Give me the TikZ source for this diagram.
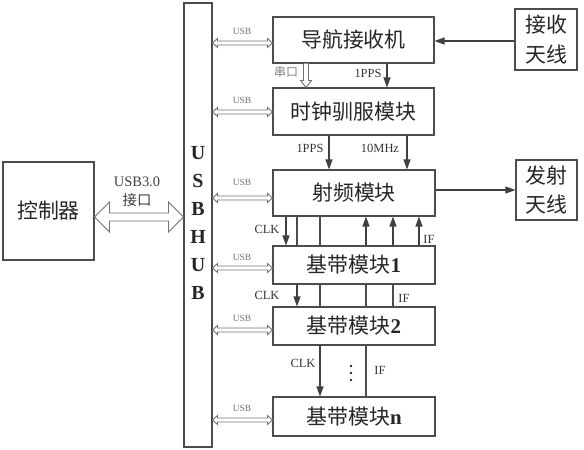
\documentclass[tikz,border=0pt]{standalone}
\usepackage{fontspec}
\setmainfont{Liberation Serif}
\newfontfamily\cjk{Noto Sans CJK SC}
\usetikzlibrary{arrows.meta,calc}
\newcommand\dblh[5]{% left, right, shaft half, head half, head length
  \draw[dblarr] (#1) -- ++(#5,-#4) -- ++(0,#4-#3) -- ($(#2)+(-#5,-#3)$) -- ++(0,#3-#4) -- (#2)
    -- ++(-#5,#4) -- ++(0,#3-#4) -- ($(#1)+(#5,#3)$) -- ++(0,#4-#3) -- cycle;}
\begin{document}
\begin{tikzpicture}[x=1bp,y=-1bp,line width=1.05bp,
  box/.style={draw=black!70, fill=white, inner sep=0pt, text=black!85,
    font=\fontsize{21}{25}\selectfont},
  lbl/.style={text=black!80, inner sep=1pt, font=\fontsize{12.5}{14}\selectfont},
  usbl/.style={text=black!55, inner sep=1pt, font=\fontsize{9.5}{11}\selectfont},
  ln/.style={draw=black!70},
  arr/.style={draw=black!75, -{Triangle[length=10bp,width=7bp]}},
  dblarr/.style={draw=black!55, line width=0.9bp, fill=white}]
\useasboundingbox (0,0) rectangle (584,450);

% boxes
\node[box, minimum width=28bp, minimum height=444bp] (hub) at (198,225) {};
\node[text=black!85, align=center, inner sep=0pt,
  font=\fontsize{20}{28}\selectfont\bfseries] (hubtxt) at (198,223) {U\\S\\B\\H\\U\\B};
\node[box, minimum width=161bp, minimum height=46bp] (nav) at (353.5,40) {\cjk 导航接收机};
\node[box, minimum width=161bp, minimum height=47bp] (clk) at (353.5,111.5) {\cjk 时钟驯服模块};
\node[box, minimum width=162bp, minimum height=46bp] (rf) at (354,193) {\cjk 射频模块};
\node[box, minimum width=162bp, minimum height=38bp] (bb1) at (354,265) {{\cjk 基带模块}\textbf{1}};
\node[box, minimum width=162bp, minimum height=38bp] (bb2) at (354,326) {{\cjk 基带模块}\textbf{2}};
\node[box, minimum width=162bp, minimum height=39bp] (bbn) at (354,416.5) {{\cjk 基带模块}\textbf{n}};
\node[box, minimum width=62bp, minimum height=61bp, align=center,
  font=\fontsize{21}{30}\selectfont] (rx) at (546,39.5) {\cjk 接收\\\cjk 天线};
\node[box, minimum width=61bp, minimum height=60bp, align=center,
  font=\fontsize{21}{30}\selectfont] (tx) at (546.5,190) {\cjk 发射\\\cjk 天线};
\node[box, minimum width=91bp, minimum height=98bp] (ctrl) at (48.5,211) {\cjk 控制器};

% antenna arrows
\coordinate (yrx) at (0,41);
\coordinate (ytx) at (0,190);
\draw[arr] (rx.west |- yrx) -- (nav.east |- yrx);
\draw[arr] (rf.east |- ytx) -- (tx.west |- ytx);

% controller <-> hub
\coordinate (yc) at (0,217);
\coordinate (cL) at (ctrl.east |- yc);
\coordinate (cR) at (hub.west |- yc);
\dblh{cL}{cR}{4}{15}{15}
\node[text=black!75, inner sep=0pt, font=\fontsize{14.5}{16}\selectfont] (usb3) at (137,182) {USB3.0};
\node[text=black!75, inner sep=0pt, font=\fontsize{14.5}{16}\selectfont] (jk) at (137,200) {\cjk 接口};

% USB links
\foreach \b/\y/\ly [count=\i] in {nav/43/31, clk/112/100, rf/198/182, bb1/268/257, bb2/330/318, bbn/420/408}{
  \coordinate (uy\i) at (0,\y);
  \coordinate (uL\i) at (hub.east |- uy\i);
  \coordinate (uR\i) at (\b.west |- uy\i);
  \dblh{uL\i}{uR\i}{2}{4.5}{5}
  \node[usbl] (usb\i) at (242,\ly) {USB};
}

% nav -> clock
\coordinate (xs) at (306,0);
\coordinate (sT) at (nav.south -| xs);
\coordinate (sB) at (clk.north -| xs);
\draw[dblarr] ($(sT)+(-2.5,0)$) -- ($(sB)+(-2.5,-7)$) -- ($(sB)+(-5.5,-7)$) -- (sB)
  -- ($(sB)+(5.5,-7)$) -- ($(sB)+(2.5,-7)$) -- ($(sT)+(2.5,0)$);
\node[text=black!50, inner sep=0pt, font=\fontsize{12}{14}\selectfont] (ck) at (286,72) {\cjk 串口};
\coordinate (xp) at (387,0);
\draw[arr] (nav.south -| xp) -- (clk.north -| xp);
\node[lbl] (pps1) at (368,73) {1PPS};

% clock -> rf
\coordinate (xa) at (329,0);
\coordinate (xb) at (407,0);
\draw[arr] (clk.south -| xa) -- (rf.north -| xa);
\draw[arr] (clk.south -| xb) -- (rf.north -| xb);
\node[lbl] (pps2) at (310,148) {1PPS};
\node[lbl] (mhz) at (380,148) {10MHz};

% CLK lines
\coordinate (c1) at (286,0);
\coordinate (c2) at (297,0);
\coordinate (c3) at (320,0);
\draw[arr] (rf.south -| c1) -- (bb1.north -| c1);
\draw[ln] (rf.south -| c2) -- (bb1.north -| c2);
\draw[arr] (bb1.south -| c2) -- (bb2.north -| c2);
\draw[ln] (rf.south -| c3) -- (bb1.north -| c3);
\draw[ln] (bb1.south -| c3) -- (bb2.north -| c3);
\draw[arr] (bb2.south -| c3) -- (bbn.north -| c3);

% IF lines
\coordinate (f1) at (366,0);
\coordinate (f2) at (393,0);
\coordinate (f3) at (419,0);
\draw[ln] (bbn.north -| f1) -- (bb2.south -| f1);
\draw[ln] (bb2.north -| f1) -- (bb1.south -| f1);
\draw[arr] (bb1.north -| f1) -- (rf.south -| f1);
\draw[ln] (bb2.north -| f2) -- (bb1.south -| f2);
\draw[arr] (bb1.north -| f2) -- (rf.south -| f2);
\draw[arr] (bb1.north -| f3) -- (rf.south -| f3);

\node[lbl] (clkl1) at (267,229) {CLK};
\node[lbl] (ifl1) at (429,239) {IF};
\node[lbl] (clkl2) at (267,295) {CLK};
\node[lbl] (ifl2) at (404,298) {IF};
\node[lbl] (clkl3) at (303,363) {CLK};
\node[lbl] (ifl3) at (380,370) {IF};
\foreach \dy in {366,373,380} \fill[black!85] (351,\dy) circle (1.4bp);
\end{tikzpicture}
\end{document}
